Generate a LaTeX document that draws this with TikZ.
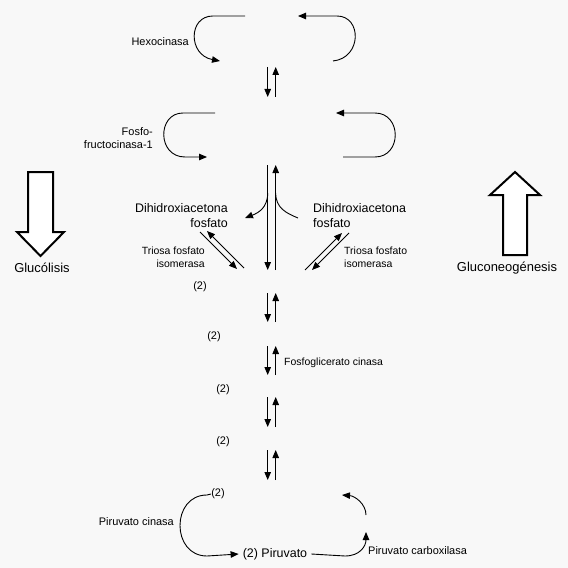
\documentclass[tikz,border=0pt]{standalone}
\usepackage{fontspec}
\setmainfont{Liberation Sans}
\usetikzlibrary{arrows.meta}
\definecolor{bg}{RGB}{248,248,248}
\tikzset{
 conn/.style={line width=0.9bp, -{Triangle[length=8bp,width=6.5bp]}},
 plain/.style={line width=0.9bp},
 lbl/.style={font=\fontsize{11}{13}\selectfont, inner sep=0pt},
 slbl/.style={font=\fontsize{10.5}{13}\selectfont, inner sep=0pt},
 big/.style={font=\fontsize{12.5}{15}\selectfont, inner sep=0pt},
 hollow/.style={line width=2bp, fill=white, line join=miter}
}
\begin{document}
\begin{tikzpicture}[x=1bp,y=-1bp]
\fill[bg] (0,0) rectangle (568,568);
\useasboundingbox (0,0) rectangle (568,568);

% ---- big direction arrows ----
\draw[hollow] (28,172) -- (53,172) -- (53,232) -- (64,232) -- (40.5,256) -- (17,232) -- (28,232) -- cycle;
\node[big, font=\fontsize{13}{15}\selectfont] (gluc) at (42,268) {Glucólisis};
\draw[hollow] (503,255) -- (527,255) -- (527,195) -- (540,195) -- (515,172) -- (490,195) -- (503,195) -- cycle;
\node[big, font=\fontsize{13}{15}\selectfont] (gneo) at (507,268) {Gluconeogénesis};

% ---- Hexocinasa ----
\coordinate (hA) at (245,16);
\coordinate (hB) at (220,61);
\coordinate (hC) at (333,61);
\coordinate (hD) at (298,16);
\draw[conn] (hA) -- (213,16) .. controls (188,16) and (188,55) .. (hB);
\draw[conn] (hC) .. controls (362,58) and (362,16) .. (337,16) -- (hD);
\node[lbl, anchor=east] (hexo) at (189,42) {Hexocinasa};

% ---- vertical double arrows ----
\foreach \n/\ya/\yb in {1/67/97, 2/165/270, 3/293/322, 4/346/375, 5/397/427, 6/450/480}{
  \coordinate (dt\n) at (267.7,\ya);
  \coordinate (db\n) at (267.7,\yb);
  \coordinate (ut\n) at (275.7,\ya);
  \coordinate (ub\n) at (275.7,\yb);
  \draw[conn] (dt\n) -- (db\n);
  \draw[conn] (ub\n) -- (ut\n);
}

% ---- Fosfofructocinasa-1 ----
\coordinate (fA) at (215,113);
\coordinate (fB) at (207,157);
\coordinate (fC) at (343,157);
\coordinate (fD) at (336,113);
\draw[conn] (fA) -- (183,113) .. controls (157,113) and (157,157) .. (185,157) -- (fB);
\draw[conn] (fC) -- (375,157) .. controls (402,157) and (402,113) .. (375,113) -- (fD);
\node[lbl, anchor=east, align=right] (pfk) at (153,138.5) {Fosfo-\\fructocinasa-1};

% ---- branch to DHAP ----
\coordinate (bL0) at (267.7,193);
\coordinate (bL) at (245,218);
\coordinate (bR0) at (275.7,193);
\coordinate (bR) at (298,218);
\draw[conn] (bL0) .. controls (267.7,208) and (258,213) .. (bL);
\draw[plain] (bR0) .. controls (275.7,208) and (286,213) .. (bR);
\node[big, anchor=east, align=right] (dhapL) at (228,216) {Dihidroxiacetona\\fosfato};
\node[big, anchor=west, align=left] (dhapR) at (313,216) {Dihidroxiacetona\\fosfato};

% ---- triosa fosfato isomerasa ----
\coordinate (tA1) at (200,232);
\coordinate (tA2) at (237,269);
\coordinate (tB1) at (244,268);
\coordinate (tB2) at (207,231);
\draw[conn] (tA1) -- (tA2);
\draw[conn] (tB1) -- (tB2);
\coordinate (tC1) at (305,270);
\coordinate (tC2) at (342,233);
\coordinate (tD1) at (349,233);
\coordinate (tD2) at (312,270);
\draw[conn] (tC1) -- (tC2);
\draw[conn] (tD1) -- (tD2);
\node[slbl, anchor=east, align=right] (tpiL) at (205,257.5) {Triosa fosfato\\isomerasa};
\node[slbl, anchor=west, align=left] (tpiR) at (344,257.5) {Triosa fosfato\\isomerasa};

% ---- (2) labels ----
\node[lbl] (n1) at (200,287) {(2)};
\node[lbl] (n2) at (214,337) {(2)};
\node[lbl] (n3) at (223,390) {(2)};
\node[lbl] (n4) at (223,442) {(2)};
\node[lbl] (n5) at (218,494) {(2)};
\node[slbl, anchor=west] (pgk) at (284,363) {Fosfoglicerato cinasa};

% ---- pyruvate ----
\node[big, inner xsep=4bp] (pir) at (275,554) {(2) Piruvato};
\draw[conn] (n5.west) -- (207,495) .. controls (171,495) and (171,556) .. (207,556) -- (pir.west);
\node[lbl, anchor=east] (pk) at (174,522) {Piruvato cinasa};
\coordinate (cA) at (366,532);
\coordinate (cB) at (366,515);
\coordinate (cC) at (342,495);
\draw[conn] (pir.east) -- (345,556) .. controls (360,556) and (366,546) .. (cA);
\draw[conn] (cB) .. controls (366,504) and (355,496) .. (cC);
\node[lbl, anchor=west] (pc) at (368,551) {Piruvato carboxilasa};
\end{tikzpicture}
\end{document}
